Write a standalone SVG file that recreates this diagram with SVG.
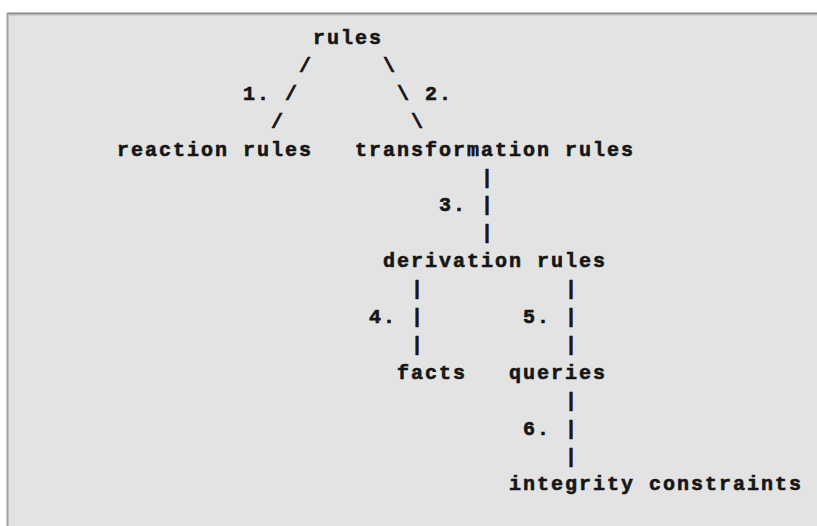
<svg xmlns="http://www.w3.org/2000/svg" width="817" height="526" viewBox="0 0 817 526">
  <style>
    text { font-family: "Liberation Mono", "DejaVu Sans Mono", monospace; font-weight: bold; font-size: 20px; letter-spacing: 2px; fill: #151515; stroke: #151515; stroke-width: 0.6px; white-space: pre; }
  </style>
  <!-- panel -->
  <rect x="0" y="0" width="817" height="526" fill="#ffffff"/>
  <rect x="7" y="13" width="810" height="513" fill="#e3e3e3"/>
  <line x1="7" y1="13.5" x2="817" y2="13.5" stroke="#8c8c8c" stroke-width="2"/>
  <line x1="7.5" y1="13" x2="7.5" y2="526" stroke="#a0a0a0" stroke-width="2"/>
  <line x1="9" y1="15.5" x2="817" y2="15.5" stroke="#cfcfcf" stroke-width="1"/>

  <!-- connectors (ASCII strokes with their step numbers) -->
  <g id="connectors">
    <text x="299" y="71.9">/</text>
    <text x="383" y="71.9">\</text>
    <text x="243" y="99.8">1. /</text>
    <text x="397" y="99.8">\ 2.</text>
    <text x="271" y="127.7">/</text>
    <text x="411" y="127.7">\</text>

    <text x="481" y="183.5">|</text>
    <text x="439" y="211.4">3. |</text>
    <text x="481" y="239.3">|</text>

    <text x="411" y="295.1">|</text>
    <text x="565" y="295.1">|</text>
    <text x="369" y="323">4. |</text>
    <text x="523" y="323">5. |</text>
    <text x="411" y="350.9">|</text>
    <text x="565" y="350.9">|</text>

    <text x="565" y="406.7">|</text>
    <text x="523" y="434.6">6. |</text>
    <text x="565" y="462.5">|</text>
  </g>

  <!-- nodes -->
  <g id="rules"><text x="313" y="44">rules</text></g>
  <g id="reaction-rules"><text x="117" y="155.6">reaction rules</text></g>
  <g id="transformation-rules"><text x="355" y="155.6">transformation rules</text></g>
  <g id="derivation-rules"><text x="383" y="267.2">derivation rules</text></g>
  <g id="facts"><text x="397" y="378.8">facts</text></g>
  <g id="queries"><text x="509" y="378.8">queries</text></g>
  <g id="integrity-constraints"><text x="509" y="490.4">integrity constraints</text></g>
</svg>
